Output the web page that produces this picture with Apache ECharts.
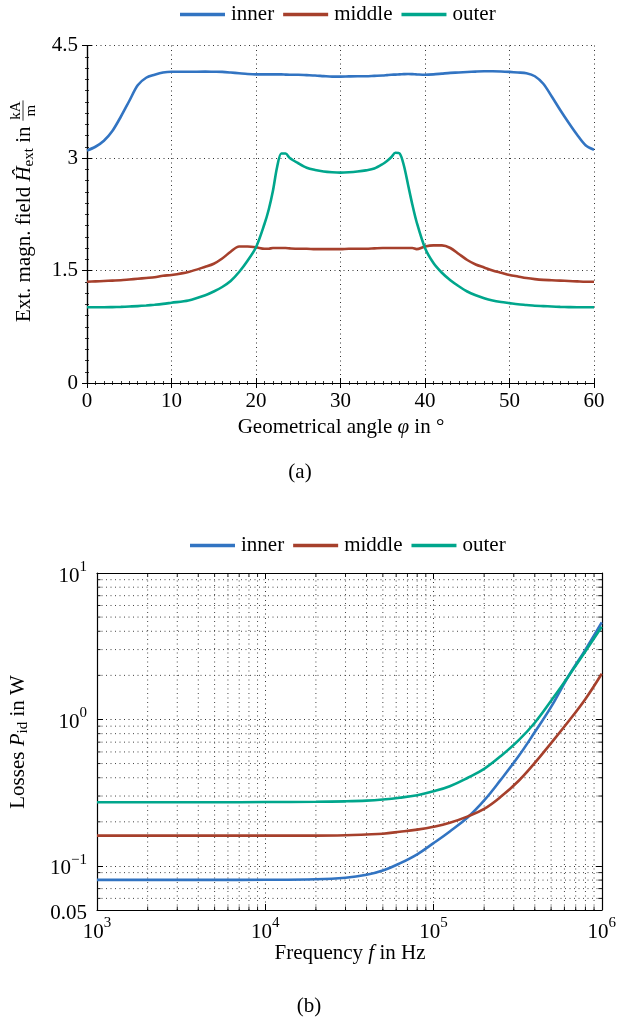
<!DOCTYPE html>
<html><head><meta charset="utf-8">
<script src="https://cdn.jsdelivr.net/npm/echarts@6/dist/echarts.min.js"></script>
<style>html,body{margin:0;padding:0;background:#fff}#c{width:619px;height:1017px}</style>
</head><body><div id="c"></div>
<script>
// ---------- data ----------
const seriesNames = ['inner', 'middle', 'outer'];
const seriesColors = ['#3274C2', '#A6402C', '#00A68C'];

// (a) external magnetic field vs geometrical angle
const angles = [0,1,2,3,4,5,6,7,8,9,10,12,14,15,16,17,18,19,20,21,21.5,22,22.5,23,23.5,24,25,26,27,28,29,30,31,32,33,34,35,35.5,36,36.5,37,37.5,38,38.5,39,40,41,42,43,44,45,46,47,48,49,50,51,52,53,54,55,56,57,58,59,60];
const innerField = [3.10,3.15,3.23,3.36,3.55,3.76,3.97,4.07,4.11,4.14,4.15,4.15,4.152,4.15,4.148,4.14,4.13,4.12,4.115,4.115,4.115,4.115,4.115,4.115,4.112,4.11,4.11,4.105,4.10,4.092,4.085,4.085,4.088,4.09,4.09,4.095,4.10,4.105,4.11,4.112,4.115,4.118,4.12,4.118,4.115,4.11,4.115,4.125,4.135,4.14,4.147,4.152,4.156,4.157,4.154,4.148,4.14,4.13,4.09,3.99,3.82,3.64,3.47,3.31,3.17,3.11];
const middleField = [1.35,1.355,1.36,1.365,1.37,1.38,1.39,1.40,1.41,1.43,1.44,1.48,1.55,1.59,1.66,1.75,1.82,1.82,1.81,1.79,1.79,1.80,1.80,1.80,1.80,1.795,1.79,1.79,1.785,1.785,1.785,1.785,1.79,1.79,1.79,1.795,1.80,1.80,1.80,1.80,1.80,1.80,1.80,1.80,1.785,1.82,1.835,1.835,1.80,1.72,1.64,1.58,1.54,1.50,1.47,1.44,1.42,1.40,1.385,1.375,1.37,1.365,1.36,1.355,1.35,1.35];
const outerField = [1.01,1.01,1.01,1.012,1.015,1.02,1.025,1.033,1.043,1.055,1.07,1.10,1.17,1.22,1.28,1.36,1.48,1.63,1.81,2.12,2.31,2.56,2.88,3.06,3.06,3.0,2.93,2.87,2.84,2.82,2.81,2.805,2.81,2.82,2.835,2.86,2.92,2.96,3.01,3.07,3.06,2.9,2.64,2.38,2.15,1.80,1.60,1.47,1.37,1.29,1.22,1.17,1.13,1.10,1.08,1.065,1.05,1.04,1.03,1.025,1.02,1.015,1.012,1.01,1.01,1.01];
const angleRange = [0, 60];
const angleStep = 10;
const fieldRange = [0, 4.5];
const fieldStep = 1.5;

// (b) losses vs frequency
const freqs = [1000,2000,5000,10000,20000,30000,40000,50000,63000,80000,100000,125000,160000,200000,250000,320000,400000,500000,630000,800000,1000000];
const innerLoss = [0.0803,0.0803,0.0803,0.0804,0.081,0.083,0.087,0.093,0.104,0.12,0.143,0.172,0.215,0.28,0.385,0.56,0.82,1.22,1.95,3.0,4.6];
const middleLoss = [0.161,0.161,0.161,0.161,0.161,0.162,0.164,0.166,0.171,0.177,0.185,0.197,0.218,0.245,0.295,0.38,0.505,0.69,0.96,1.38,2.05];
const outerLoss = [0.272,0.272,0.272,0.273,0.274,0.276,0.279,0.284,0.292,0.304,0.323,0.35,0.40,0.46,0.56,0.72,0.95,1.34,1.95,2.92,4.3];
const freqRange = [1e3, 1e6];
const lossRange = [0.05, 10];

// ---------- helpers ----------
const FONT = '"Liberation Serif", "DejaVu Serif", serif';
const FS = 21;
const mctx = document.createElement('canvas').getContext('2d');
function tw(t, size, italic) { mctx.font = (italic ? 'italic ' : '') + size + 'px ' + FONT; return mctx.measureText(t).width; }

function mathLabel(pieces, cx, cy, rot) {
  let W = 0;
  pieces.forEach(p => {
    p.w = p.frac ? Math.max(tw(p.num, p.size), tw(p.den, p.size)) + 3 : tw(p.t, p.size, p.italic);
    W += p.w;
  });
  let x = -W / 2;
  const ch = [];
  pieces.forEach(p => {
    if (p.frac) {
      const base = {fontSize: p.size, fontFamily: FONT, fill: '#000', align: 'center', verticalAlign: 'middle'};
      ch.push({type: 'text', x: x + p.w / 2, y: -8, style: Object.assign({text: p.num}, base)});
      ch.push({type: 'text', x: x + p.w / 2, y: 7, style: Object.assign({text: p.den}, base)});
      ch.push({type: 'line', shape: {x1: x + 0.5, y1: -1, x2: x + p.w - 0.5, y2: -1}, style: {stroke: '#000', lineWidth: 0.8}});
    } else {
      ch.push({type: 'text', x: x, y: p.dy || 0, style: {text: p.t, fontSize: p.size, fontStyle: p.italic ? 'italic' : 'normal', fontFamily: FONT, fill: '#000', align: 'left', verticalAlign: 'middle'}});
    }
    x += p.w;
  });
  return {type: 'group', x: cx, y: cy, rotation: rot, children: ch, silent: true};
}

// minor positions of the log axes (2..9 times each decade)
function logMinor(range) {
  const out = [];
  for (let e = Math.floor(Math.log10(range[0])); e < Math.ceil(Math.log10(range[1])); e++) {
    for (let m = 2; m <= 9; m++) {
      const v = m * Math.pow(10, e);
      if (v > range[0] * 1.0001 && v < range[1] * 0.9999) out.push(v);
    }
  }
  return out;
}
const freqMinor = logMinor(freqRange);
const lossMinor = logMinor(lossRange);

const axisLineStyle = {show: true, lineStyle: {color: '#000', width: 1.2}};
const dotted = {show: true, lineStyle: {color: '#333', width: 1, type: [1, 3.5]}};
const tickLabel = {color: '#000', fontSize: FS, fontFamily: FONT};

function sup(v) {
  const e = Math.log10(v), r = Math.round(e);
  if (Math.abs(e - r) > 0.01) return '{b|' + String(+v.toPrecision(3)) + '}';
  return '{b|10}{s|' + (r < 0 ? '\u2212' + (-r) : r) + '}';
}
const supRich = {
  b: {fontSize: FS, fontFamily: FONT, color: '#000', lineHeight: 27, verticalAlign: 'bottom'},
  s: {fontSize: 15, fontFamily: FONT, color: '#000', lineHeight: 15, verticalAlign: 'top'}
};

const chart = echarts.init(document.getElementById('c'), null, {renderer: 'canvas'});

const grids = [
  {left: 87, width: 507, top: 45.5, height: 337.5},
  {left: 97, width: 507, top: 573, height: 337}
];

const linearX = (pos, show) => ({
  gridIndex: 0, type: 'value', position: pos, min: angleRange[0], max: angleRange[1], interval: angleStep,
  axisLine: axisLineStyle,
  axisTick: {show: true, inside: true, length: 5, lineStyle: {color: '#000', width: 1}},
  minorTick: {show: true, splitNumber: 10, length: 2, lineStyle: {color: '#000', width: 0.8}},
  axisLabel: show ? Object.assign({margin: 8}, tickLabel) : {show: false},
  splitLine: show ? dotted : {show: false}
});
const linearY = (pos, show) => ({
  gridIndex: 0, type: 'value', position: pos, min: fieldRange[0], max: fieldRange[1], interval: fieldStep,
  axisLine: axisLineStyle,
  axisTick: {show: true, inside: true, length: 5, lineStyle: {color: '#000', width: 1}},
  minorTick: {show: true, splitNumber: 10, length: 2, lineStyle: {color: '#000', width: 0.8}},
  axisLabel: show ? Object.assign({margin: 9}, tickLabel) : {show: false},
  splitLine: show ? dotted : {show: false}
});
const logX = (pos, show) => ({
  gridIndex: 1, type: 'log', logBase: 10, position: pos, min: freqRange[0], max: freqRange[1],
  axisLine: axisLineStyle,
  axisTick: {show: true, inside: true, length: 6, lineStyle: {color: '#000', width: 1}},
  axisLabel: show ? {margin: 6, formatter: sup, rich: supRich} : {show: false},
  splitLine: show ? dotted : {show: false}
});
const logY = (pos, show) => ({
  gridIndex: 1, type: 'log', logBase: 10, position: pos, min: lossRange[0], max: lossRange[1],
  axisLine: axisLineStyle,
  axisTick: {show: true, inside: true, length: 6, lineStyle: {color: '#000', width: 1}},
  axisLabel: show ? {margin: 10, formatter: sup, rich: supRich} : {show: false},
  splitLine: show ? dotted : {show: false}
});

function minorGrid(params, api) {
  const ch = [];
  const dot = {stroke: '#444', lineWidth: 1, lineDash: [1, 3.5]};
  const tk = {stroke: '#000', lineWidth: 0.9};
  const L = 3.5;
  freqMinor.forEach(v => {
    const a = api.coord([v, lossRange[0]]), b = api.coord([v, lossRange[1]]);
    ch.push({type: 'line', shape: {x1: a[0], y1: a[1], x2: b[0], y2: b[1]}, style: dot});
    ch.push({type: 'line', shape: {x1: a[0], y1: a[1], x2: a[0], y2: a[1] - L}, style: tk});
    ch.push({type: 'line', shape: {x1: b[0], y1: b[1], x2: b[0], y2: b[1] + L}, style: tk});
  });
  lossMinor.forEach(v => {
    const a = api.coord([freqRange[0], v]), b = api.coord([freqRange[1], v]);
    ch.push({type: 'line', shape: {x1: a[0], y1: a[1], x2: b[0], y2: b[1]}, style: dot});
    ch.push({type: 'line', shape: {x1: a[0], y1: a[1], x2: a[0] + L, y2: a[1]}, style: tk});
    ch.push({type: 'line', shape: {x1: b[0], y1: b[1], x2: b[0] - L, y2: b[1]}, style: tk});
  });
  return {type: 'group', children: ch};
}

const fieldData = [innerField, middleField, outerField];
const lossData = [innerLoss, middleLoss, outerLoss];

const series = [];
seriesNames.forEach((name, i) => {
  series.push({
    name, type: 'line', xAxisIndex: 0, yAxisIndex: 0, showSymbol: false, smooth: 0.3, z: 5,
    color: seriesColors[i], lineStyle: {width: 2.6, color: seriesColors[i]},
    data: angles.map((a, k) => [a, fieldData[i][k]])
  });
});
series.push({
  type: 'custom', xAxisIndex: 2, yAxisIndex: 2, silent: true, z: 1,
  renderItem: minorGrid, data: [[freqRange[0], lossRange[0]]]
});
seriesNames.forEach((name, i) => {
  series.push({
    name, type: 'line', xAxisIndex: 2, yAxisIndex: 2, showSymbol: false, smooth: 0.4, z: 5,
    color: seriesColors[i], lineStyle: {width: 2.6, color: seriesColors[i]},
    data: freqs.map((f, k) => [f, lossData[i][k]])
  });
});

const legendBase = {
  orient: 'horizontal', icon: 'rect', itemWidth: 45, itemHeight: 3.5, itemGap: 9, padding: 0,
  textStyle: {fontSize: FS, fontFamily: FONT, color: '#000', padding: [0, 0, 0, 1]},
  data: seriesNames, selectedMode: false
};

const graphics = [
  mathLabel([
    {t: 'Ext. magn. field ', size: FS},
    {t: '\u0124', size: FS, italic: true},
    {t: 'ext', size: 15, dy: 5},
    {t: ' in ', size: FS},
    {frac: true, num: 'kA', den: 'm', size: 15}
  ], 24, 211, Math.PI / 2),
  mathLabel([
    {t: 'Geometrical angle ', size: FS},
    {t: '\u03C6', size: FS, italic: true},
    {t: ' in \u00B0', size: FS}
  ], 341, 427, 0),
  mathLabel([{t: '(a)', size: FS}], 300, 472, 0),
  mathLabel([
    {t: 'Losses ', size: FS},
    {t: 'P', size: FS, italic: true},
    {t: 'id', size: 15, dy: 5},
    {t: ' in W', size: FS}
  ], 18, 742, Math.PI / 2),
  mathLabel([
    {t: 'Frequency ', size: FS},
    {t: 'f', size: FS, italic: true},
    {t: ' in Hz', size: FS}
  ], 350, 953, 0),
  mathLabel([{t: '(b)', size: FS}], 309, 1006, 0)
];

chart.setOption({
  animation: false,
  backgroundColor: '#fff',
  grid: grids,
  legend: [
    Object.assign({left: 180, top: 4}, legendBase),
    Object.assign({left: 190, top: 535}, legendBase)
  ],
  xAxis: [linearX('bottom', true), linearX('top', false), logX('bottom', true), logX('top', false)],
  yAxis: [linearY('left', true), linearY('right', false), logY('left', true), logY('right', false)],
  series,
  graphic: graphics
});
</script></body></html>
